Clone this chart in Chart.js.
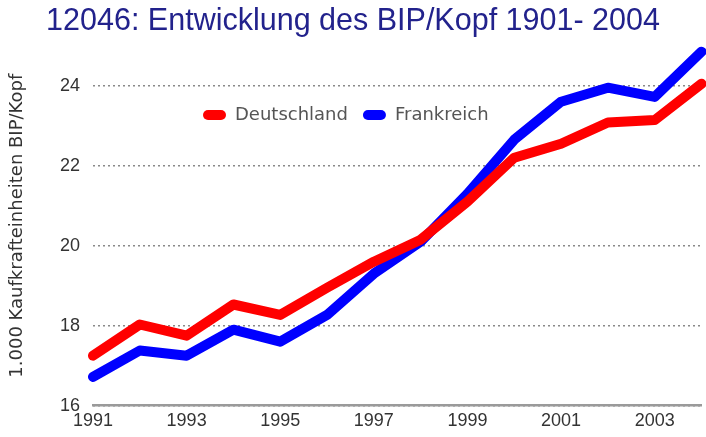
<!DOCTYPE html>
<html>
<head>
<meta charset="utf-8">
<script src="https://cdn.jsdelivr.net/npm/chart.js@4"></script>
<style>
  html, body { margin: 0; padding: 0; background: #fff; }
  #wrap { width: 706px; height: 437px; }
</style>
</head>
<body>
<div id="wrap"><canvas id="bipChart" width="706" height="437"></canvas></div>
<script>
const years = ['1991', '1992', '1993', '1994', '1995', '1996', '1997', '1998', '1999', '2000', '2001', '2002', '2003', '2004'];
const deutschland = [17.25, 18.03, 17.75, 18.53, 18.27, 18.95, 19.6, 20.15, 21.1, 22.2, 22.55, 23.08, 23.14, 24.05];
const frankreich = [16.72, 17.38, 17.25, 17.9, 17.6, 18.27, 19.3, 20.1, 21.3, 22.65, 23.6, 23.95, 23.72, 24.85];
const yTicks = [16, 18, 20, 22, 24];

// legend sits inside the plot in the original: take no layout space, then move it there
const legendPlace = {
  id: 'legendPlace',
  beforeLayout(chart) {
    const lg = chart.legend;
    if (lg && !lg._noSpace) {
      const fit = lg.fit;
      lg.fit = function () { fit.call(this); this.height = 0; };
      lg._noSpace = true;
    }
  },
  afterLayout(chart) {
    const lg = chart.legend;
    lg.left = 188; lg.top = 91;
    lg.right = 706; lg.bottom = lg.top + 48;
    lg.width = lg.right - lg.left;
  }
};

new Chart(document.getElementById('bipChart'), {
  type: 'line',
  data: {
    labels: years,
    datasets: [
      { label: 'Deutschland', data: deutschland, borderColor: '#ff0000', backgroundColor: '#ff0000' },
      { label: 'Frankreich', data: frankreich, borderColor: '#0000ff', backgroundColor: '#0000ff' }
    ]
  },
  options: {
    responsive: false,
    animation: false,
    layout: { padding: 0 },
    elements: {
      line: { borderWidth: 10, tension: 0, borderJoinStyle: 'round', borderCapStyle: 'round' },
      point: { radius: 0 }
    },
    plugins: {
      title: {
        display: true,
        text: '12046: Entwicklung des BIP/Kopf 1901- 2004',
        color: '#22228c',
        font: { family: 'Liberation Sans', size: 30.5, weight: 'normal' },
        padding: { top: 3, bottom: 6.1 }
      },
      legend: {
        position: 'top',
        align: 'start',
        labels: {
          color: '#555',
          font: { family: 'DejaVu Sans', size: 18 },
          boxWidth: 23,
          boxHeight: 10,
          useBorderRadius: true,
          borderRadius: 5,
          padding: 15,
          generateLabels: chart => Chart.defaults.plugins.legend.labels.generateLabels(chart)
            .map(l => ({ ...l, lineWidth: 0 }))
        }
      },
      tooltip: { enabled: false }
    },
    scales: {
      x: {
        grid: { display: false, drawTicks: false },
        border: { display: true, color: '#9a9a9a', width: 2.5 },
        ticks: {
          color: '#333',
          font: { family: 'Liberation Sans', size: 18 },
          padding: 4.5,
          autoSkip: false,
          maxRotation: 0,
          callback: (v, i) => (i % 2 === 0 ? years[i] : '')
        },
        afterFit: s => { s.height = 31.3; }
      },
      y: {
        min: 16,
        max: 25,
        afterBuildTicks: s => { s.ticks = yTicks.map(v => ({ value: v })); },
        grid: { color: '#8a8a8a', lineWidth: 1.5, drawTicks: false },
        border: { display: false, dash: [2, 3] },
        ticks: {
          color: '#333',
          font: { family: 'Liberation Sans', size: 18 },
          padding: 13
        },
        title: {
          display: true,
          text: '1.000 Kaufkrafteinheiten BIP/Kopf',
          color: '#333',
          font: { family: 'DejaVu Sans', size: 18 },
          padding: { top: 7, bottom: 0 }
        },
        afterFit: s => { s.width = 93; }
      }
    }
  },
  plugins: [legendPlace]
});
</script>
</body>
</html>
